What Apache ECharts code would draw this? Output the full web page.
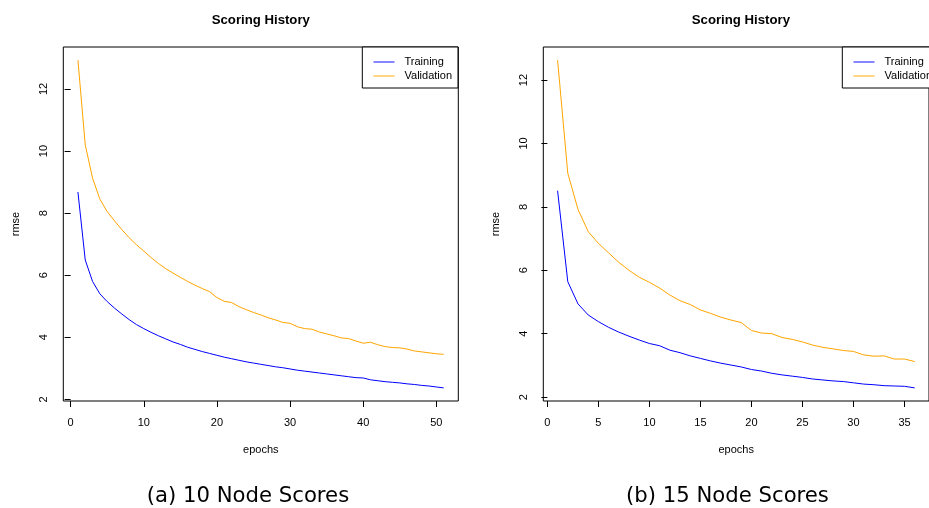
<!DOCTYPE html>
<html>
<head>
<meta charset="utf-8">
<script src="https://cdn.jsdelivr.net/npm/echarts@6/dist/echarts.min.js"></script>
<style>html,body{margin:0;padding:0;background:#fff;}#c{width:929px;height:508px;}</style>
</head>
<body>
<div id="c"></div>
<script>
// ---- data: panel (a) 10 nodes ----
const epochsA = [1,2,3,4,5,6,7,8,9,10,11,12,13,14,15,16,17,18,19,20,21,22,23,24,25,26,27,28,29,30,31,32,33,34,35,36,37,38,39,40,41,42,43,44,45,46,47,48,49,50,51];
const trainA = [8.68,6.49,5.80,5.40,5.15,4.94,4.75,4.57,4.41,4.28,4.16,4.05,3.95,3.85,3.77,3.68,3.61,3.54,3.48,3.42,3.36,3.31,3.26,3.21,3.17,3.13,3.09,3.05,3.02,2.98,2.94,2.91,2.88,2.85,2.82,2.79,2.76,2.73,2.70,2.69,2.63,2.60,2.57,2.55,2.53,2.50,2.48,2.45,2.43,2.40,2.37];
const validA = [12.93,10.20,9.13,8.45,8.05,7.75,7.47,7.21,6.98,6.78,6.57,6.38,6.21,6.07,5.93,5.80,5.68,5.57,5.47,5.28,5.16,5.12,4.99,4.89,4.80,4.72,4.63,4.56,4.48,4.45,4.34,4.28,4.26,4.17,4.11,4.05,3.98,3.96,3.88,3.81,3.84,3.76,3.70,3.67,3.66,3.62,3.56,3.53,3.50,3.47,3.45];
// ---- data: panel (b) 15 nodes ----
const epochsB = [1,2,3,4,5,6,7,8,9,10,11,12,13,14,15,16,17,18,19,20,21,22,23,24,25,26,27,28,29,30,31,32,33,34,35,36];
const trainB = [8.51,5.64,4.94,4.59,4.38,4.20,4.05,3.92,3.80,3.69,3.62,3.48,3.40,3.30,3.22,3.14,3.07,3.01,2.95,2.87,2.82,2.75,2.70,2.66,2.62,2.57,2.54,2.51,2.49,2.45,2.41,2.39,2.36,2.35,2.34,2.29];
const validB = [12.63,9.06,7.92,7.22,6.85,6.55,6.25,6.00,5.78,5.62,5.44,5.22,5.04,4.92,4.75,4.64,4.52,4.43,4.35,4.10,4.02,4.00,3.88,3.82,3.74,3.64,3.57,3.52,3.47,3.44,3.33,3.29,3.30,3.20,3.20,3.12];
// ---- tick labels ----
const xTicksA = [0,10,20,30,40,50];
const xTicksB = [0,5,10,15,20,25,30,35];
const yTicks = [2,4,6,8,10,12];
const seriesNames = ['Training','Validation'];
const plotTitle = 'Scoring History';
const xName = 'epochs';
const yName = 'rmse';
const captions = ['(a) 10 Node Scores','(b) 15 Node Scores'];

const FONT = 'Liberation Sans, Arial, sans-serif';
const BLUE = '#0000FF', ORANGE = '#FFA500';

// R-style 4% axis extension
function ext(lo, hi){ const d=(hi-lo)*0.04; return [lo-d, hi+d]; }
const xrA = ext(Math.min(...epochsA), Math.max(...epochsA));
const yrA = ext(Math.min(...trainA, ...validA), Math.max(...trainA, ...validA));
const xrB = ext(Math.min(...epochsB), Math.max(...epochsB));
const yrB = ext(Math.min(...trainB, ...validB), Math.max(...trainB, ...validB));

const grids = [
  {left: 63.3, top: 47, width: 395, height: 354},
  {left: 543.3, top: 47, width: 395.2, height: 354}
];

function xAxis(i, rng, ticks){
  return {
    type:'value', gridIndex:i, min:rng[0], max:rng[1],
    name: xName, nameLocation:'middle', nameGap: 43,
    nameTextStyle:{fontFamily:FONT, fontSize:11, color:'#000'},
    axisLine:{show:false},
    axisTick:{show:true, inside:false, length:6, customValues: ticks, lineStyle:{color:'#000', width:1}},
    axisLabel:{show:true, customValues: ticks, margin:16, fontFamily:FONT, fontSize:11, color:'#000'},
    splitLine:{show:false}
  };
}
function yAxis(i, rng, ticks){
  return {
    type:'value', gridIndex:i, min:rng[0], max:rng[1],
    name: yName, nameLocation:'middle', nameGap: 42, nameRotate: 90,
    nameTextStyle:{fontFamily:FONT, fontSize:11, color:'#000'},
    axisLine:{show:false},
    axisTick:{show:true, inside:false, length:6, customValues: ticks, lineStyle:{color:'#000', width:1}},
    axisLabel:{show:true, customValues: ticks, rotate:90, margin:14, fontFamily:FONT, fontSize:11, color:'#000'},
    splitLine:{show:false}
  };
}
function lineSeries(name, xi, xs, ys, color){
  return {
    name, type:'line', xAxisIndex:xi, yAxisIndex:xi,
    data: xs.map((x,k)=>[x, ys[k]]),
    symbol:'none', showSymbol:false, animation:false,
    lineStyle:{color, width:1}, itemStyle:{color}
  };
}
function legend(left){
  return {
    show:true, orient:'vertical', left:left, top:47,
    data: seriesNames,
    itemWidth:21, itemHeight:14, itemGap:0,
    padding:[8,6,5,10.4],
    borderColor:'#000', borderWidth:1, backgroundColor:'#fff',
    itemStyle:{opacity:0},
    lineStyle:{width:1.6, opacity:0.6},
    textStyle:{fontFamily:FONT, fontSize:11, lineHeight:14, color:'#000', padding:[0,0,0,5]},
    selectedMode:false
  };
}

const chart = echarts.init(document.getElementById('c'), null, {renderer:'canvas'});
chart.setOption({
  animation:false,
  backgroundColor:'#fff',
  grid: grids.map(g=>Object.assign({show:true, borderColor:'#000', borderWidth:1, backgroundColor:'transparent'}, g)),
  xAxis:[xAxis(0,xrA,xTicksA), xAxis(1,xrB,xTicksB)],
  yAxis:[yAxis(0,yrA,yTicks), yAxis(1,yrB,yTicks)],
  legend:[legend(362.3), legend(842.3)],
  series:[
    lineSeries(seriesNames[0],0,epochsA,trainA,BLUE),
    lineSeries(seriesNames[1],0,epochsA,validA,ORANGE),
    lineSeries(seriesNames[0],1,epochsB,trainB,BLUE),
    lineSeries(seriesNames[1],1,epochsB,validB,ORANGE)
  ],
  graphic:[
    {type:'text', x:260.8, y:20, style:{text:plotTitle, align:'center', verticalAlign:'middle', font:'bold 13.2px '+FONT, fill:'#000'}},
    {type:'text', x:740.9, y:20, style:{text:plotTitle, align:'center', verticalAlign:'middle', font:'bold 13.2px '+FONT, fill:'#000'}},
    {type:'text', x:248, y:496, style:{text:captions[0], align:'center', verticalAlign:'middle', font:'21.2px DejaVu Sans, sans-serif', fill:'#000'}},
    {type:'text', x:727.5, y:496, style:{text:captions[1], align:'center', verticalAlign:'middle', font:'21.2px DejaVu Sans, sans-serif', fill:'#000'}}
  ]
});
</script>
</body>
</html>
